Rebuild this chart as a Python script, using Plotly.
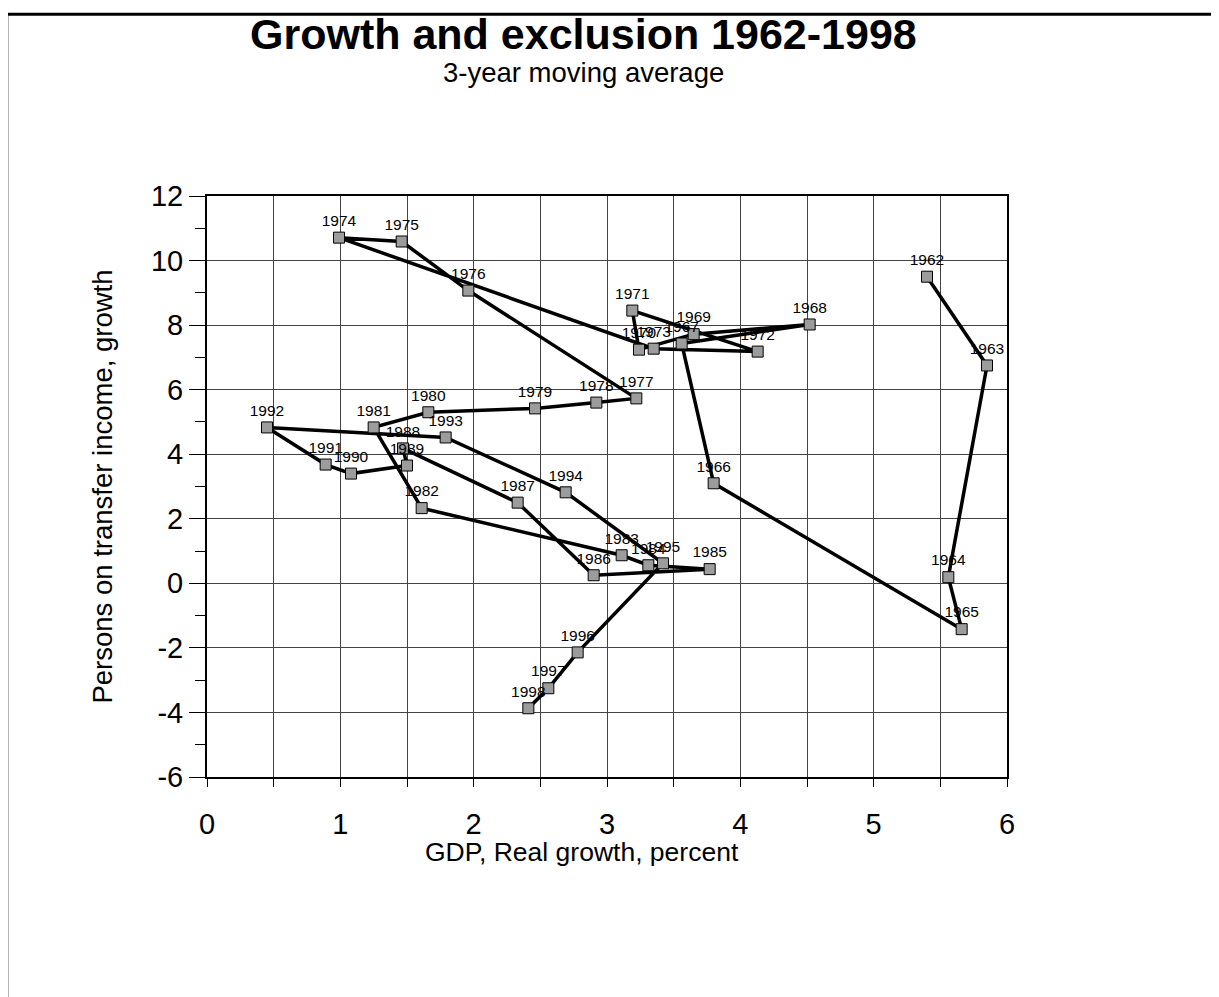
import plotly.graph_objects as go

years = [str(y) for y in range(1962, 1999)]
gdp_growth = [5.40, 5.85, 5.56, 5.66, 3.80, 3.56, 4.52, 3.65, 3.24, 3.19,
              4.13, 3.35, 0.99, 1.46, 1.96, 3.22, 2.92, 2.46, 1.66, 1.25,
              1.61, 3.11, 3.31, 3.77, 2.90, 2.33, 1.47, 1.50, 1.08, 0.89,
              0.45, 1.79, 2.69, 3.42, 2.78, 2.56, 2.41]
transfer_growth = [9.50, 6.75, 0.19, -1.42, 3.10, 7.43, 8.02, 7.72, 7.24, 8.45,
                   7.18, 7.27, 10.71, 10.59, 9.07, 5.73, 5.60, 5.42, 5.30, 4.83,
                   2.33, 0.87, 0.56, 0.44, 0.25, 2.50, 4.18, 3.65, 3.40, 3.68,
                   4.83, 4.52, 2.82, 0.62, -2.14, -3.25, -3.87]
x_ticks = [0, 1, 2, 3, 4, 5, 6]
y_ticks = [12, 10, 8, 6, 4, 2, 0, -2, -4, -6]

FONT = "Liberation Sans, Arial, sans-serif"

fig = go.Figure()
fig.add_trace(go.Scatter(
    x=gdp_growth, y=transfer_growth, text=years,
    mode="lines+markers+text",
    textposition="top center",
    textfont=dict(family=FONT, size=15.5, color="black"),
    line=dict(color="black", width=3.5),
    marker=dict(symbol="square", size=11, color="#9c9c9c",
                line=dict(color="black", width=1)),
    showlegend=False, cliponaxis=False,
))

fig.update_layout(
    width=1219, height=997,
    margin=dict(l=199, r=220, t=188, b=228),
    paper_bgcolor="white", plot_bgcolor="white",
    font=dict(family=FONT, color="black"),
    xaxis=dict(
        range=[0, 6], tickvals=x_ticks, ticktext=[str(v) for v in x_ticks],
        showgrid=False, zeroline=False,
        showline=True, linecolor="black", linewidth=2, mirror=True,
        ticks="outside", ticklen=8, tickcolor="black", tickwidth=1,
        ticklabelstandoff=12,
        tickfont=dict(family=FONT, size=29),
        minor=dict(dtick=0.5, tick0=0, showgrid=True, gridcolor="#444444",
                   gridwidth=1, ticks="outside", ticklen=8, tickcolor="black"),
    ),
    yaxis=dict(
        range=[-6, 12], tickvals=y_ticks, ticktext=[str(v) for v in y_ticks],
        showgrid=True, gridcolor="#444444", gridwidth=1, zeroline=False,
        showline=True, linecolor="black", linewidth=2, mirror=True,
        ticks="outside", ticklen=16, tickcolor="black", tickwidth=1,
        tickfont=dict(family=FONT, size=29),
        minor=dict(dtick=1, tick0=0, showgrid=False, ticks="outside",
                   ticklen=10, tickcolor="black"),
        title=dict(text="Persons on transfer income, growth",
                   font=dict(family=FONT, size=27.5), standoff=30),
    ),
    annotations=[
        dict(text="<b>Growth and exclusion 1962-1998</b>", xref="paper", yref="paper",
             x=0.47, y=1.279, showarrow=False, xanchor="center", yanchor="middle",
             font=dict(family=FONT, size=43)),
        dict(text="3-year moving average", xref="paper", yref="paper",
             x=0.47, y=1.212, showarrow=False, xanchor="center", yanchor="middle",
             font=dict(family=FONT, size=27.5)),
        dict(text="GDP, Real growth, percent", xref="paper", yref="paper",
             x=0.469, y=-0.129, showarrow=False, xanchor="center", yanchor="middle",
             font=dict(family=FONT, size=26.5)),
    ],
    shapes=[
        dict(type="line", xref="paper", yref="paper", x0=-0.249, x1=1.30,
             y0=1.313, y1=1.313, line=dict(color="black", width=3)),
        dict(type="line", xref="paper", yref="paper", x0=-0.249, x1=-0.249,
             y0=1.313, y1=-0.40, line=dict(color="black", width=1)),
    ],
)

fig.write_html("out.html")
